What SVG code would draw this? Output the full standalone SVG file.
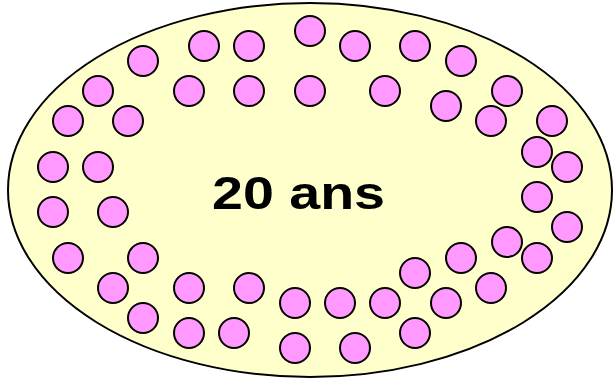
<svg xmlns="http://www.w3.org/2000/svg" width="614" height="380" viewBox="0 0 614 380">
<style>
.c{fill:#FF99FF;stroke:#000;stroke-width:2}
.e{fill:#FFFFCC;stroke:#000;stroke-width:2}
.t{font-family:"Liberation Sans",Arial,sans-serif;font-weight:bold;font-size:46px;fill:#000}
</style>
<rect width="614" height="380" fill="#fff"/>
<g id="ellipse">
<ellipse class="e" cx="310" cy="190" rx="302" ry="187"/>
<text class="t" x="212" y="209" textLength="173" lengthAdjust="spacingAndGlyphs">20 ans</text>
</g>
<g id="dots">
<circle class="c" cx="143" cy="61" r="15"/>
<circle class="c" cx="204" cy="46" r="15"/>
<circle class="c" cx="249" cy="46" r="15"/>
<circle class="c" cx="310" cy="31" r="15"/>
<circle class="c" cx="355" cy="46" r="15"/>
<circle class="c" cx="415" cy="46" r="15"/>
<circle class="c" cx="461" cy="61" r="15"/>
<circle class="c" cx="98" cy="91" r="15"/>
<circle class="c" cx="189" cy="91" r="15"/>
<circle class="c" cx="249" cy="91" r="15"/>
<circle class="c" cx="310" cy="91" r="15"/>
<circle class="c" cx="385" cy="91" r="15"/>
<circle class="c" cx="446" cy="106" r="15"/>
<circle class="c" cx="507" cy="91" r="15"/>
<circle class="c" cx="68" cy="121" r="15"/>
<circle class="c" cx="128" cy="121" r="15"/>
<circle class="c" cx="491" cy="121" r="15"/>
<circle class="c" cx="552" cy="121" r="15"/>
<circle class="c" cx="537" cy="152" r="15"/>
<circle class="c" cx="53" cy="167" r="15"/>
<circle class="c" cx="98" cy="167" r="15"/>
<circle class="c" cx="567" cy="167" r="15"/>
<circle class="c" cx="537" cy="197" r="15"/>
<circle class="c" cx="53" cy="212" r="15"/>
<circle class="c" cx="113" cy="212" r="15"/>
<circle class="c" cx="567" cy="227" r="15"/>
<circle class="c" cx="507" cy="242" r="15"/>
<circle class="c" cx="68" cy="258" r="15"/>
<circle class="c" cx="143" cy="258" r="15"/>
<circle class="c" cx="461" cy="258" r="15"/>
<circle class="c" cx="537" cy="258" r="15"/>
<circle class="c" cx="415" cy="273" r="15"/>
<circle class="c" cx="113" cy="288" r="15"/>
<circle class="c" cx="189" cy="288" r="15"/>
<circle class="c" cx="249" cy="288" r="15"/>
<circle class="c" cx="491" cy="288" r="15"/>
<circle class="c" cx="295" cy="303" r="15"/>
<circle class="c" cx="340" cy="303" r="15"/>
<circle class="c" cx="385" cy="303" r="15"/>
<circle class="c" cx="446" cy="303" r="15"/>
<circle class="c" cx="143" cy="318" r="15"/>
<circle class="c" cx="189" cy="333" r="15"/>
<circle class="c" cx="234" cy="333" r="15"/>
<circle class="c" cx="415" cy="333" r="15"/>
<circle class="c" cx="295" cy="348" r="15"/>
<circle class="c" cx="355" cy="348" r="15"/>
</g>
</svg>
